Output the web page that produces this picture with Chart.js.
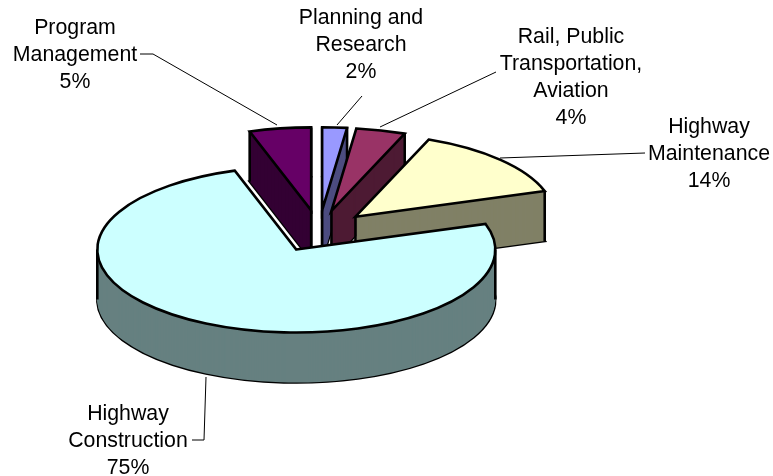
<!DOCTYPE html>
<html>
<head>
<meta charset="utf-8">
<style>html,body{margin:0;padding:0;background:#fff}canvas{display:block}</style>
<script src="https://cdn.jsdelivr.net/npm/chart.js@4/dist/chart.umd.js"></script>
</head>
<body>
<canvas id="c" width="773" height="476"></canvas>
<script>
const categories = ["Planning and Research", "Rail, Public Transportation, Aviation", "Highway Maintenance", "Highway Construction", "Program Management"];
const labelLines = [["Planning and", "Research"], ["Rail, Public", "Transportation,", "Aviation"], ["Highway", "Maintenance"], ["Highway", "Construction"], ["Program", "Management"]];
const shares = [2, 4, 14, 75, 5];
const topColors = ["#9999FF", "#993366", "#FFFFCC", "#CCFFFF", "#660066"];
const sideColors = ["#4D4D80", "#4D1A33", "#808066", "#668080", "#330033"];
const drawOrder = [4, 0, 1, 2, 3];

const TILT = 0.417, DEPTH = 50, EXPLODE = 50, LINE = 2.6;

function offsets(arc) {
  const mid = (arc.startAngle + arc.endAngle) / 2;
  return { cx: arc.x + Math.cos(mid) * EXPLODE, cy: arc.y + Math.sin(mid) * EXPLODE * TILT };
}
function sector(ctx, arc, shift) {
  const { cx, cy } = offsets(arc);
  ctx.beginPath();
  ctx.moveTo(cx, cy + shift);
  ctx.ellipse(cx, cy + shift, arc.outerRadius, arc.outerRadius * TILT, 0, arc.startAngle, arc.endAngle);
  ctx.closePath();
}
function verticals(ctx, arc) {
  const { cx, cy } = offsets(arc);
  const r = arc.outerRadius, pts = [[cx, cy]];
  const angles = [arc.startAngle, arc.endAngle];
  for (const a of [0, Math.PI, 2 * Math.PI]) if (a > arc.startAngle && a < arc.endAngle) angles.push(a);
  for (const a of angles) pts.push([cx + Math.cos(a) * r, cy + Math.sin(a) * r * TILT]);
  ctx.beginPath();
  for (const [x, y] of pts) { ctx.moveTo(x, y); ctx.lineTo(x, y + DEPTH); }
  ctx.stroke();
}

class Pie3D extends Chart.PieController {
  draw() {
    const ctx = this.chart.ctx, arcs = this._cachedMeta.data;
    ctx.save();
    ctx.lineJoin = "miter";
    ctx.strokeStyle = "#000";
    ctx.lineWidth = LINE;
    for (const i of drawOrder) {
      const arc = arcs[i];
      sector(ctx, arc, DEPTH); ctx.stroke();
      ctx.fillStyle = sideColors[i];
      for (let s = DEPTH; s >= 0; s--) { sector(ctx, arc, s); ctx.fill(); }
      verticals(ctx, arc);
      const { cx, cy } = offsets(arc);
      ctx.save();
      ctx.translate(cx - arc.x, cy - arc.y);
      ctx.translate(arc.x, arc.y);
      ctx.scale(1, TILT);
      ctx.translate(-arc.x, -arc.y);
      arc.draw(ctx);
      ctx.restore();
      sector(ctx, arc, 0); ctx.stroke();
    }
    ctx.restore();
  }
}
Pie3D.id = "pie3d";
Chart.register(Pie3D);

const textPlugin = {
  id: "callouts",
  afterDraw(chart) {
    const ctx = chart.ctx;
    const anchors = [[361, 18], [571, 37], [709, 127], [128, 414], [75, 28]];
    const leaders = [
      [[362, 96], [337, 125]],
      [[496, 72], [380, 127]],
      [[645, 153], [500, 158]],
      [[192, 440], [204, 440], [206, 377]],
      [[140, 54], [153, 54], [277, 125]]
    ];
    ctx.save();
    ctx.strokeStyle = "#000";
    ctx.lineWidth = 1;
    for (const l of leaders) {
      ctx.beginPath();
      l.forEach(([x, y], j) => j ? ctx.lineTo(x, y) : ctx.moveTo(x, y));
      ctx.stroke();
    }
    ctx.fillStyle = "#000";
    ctx.font = '21.3px "Liberation Sans", Arial, sans-serif';
    ctx.textAlign = "center";
    ctx.textBaseline = "middle";
    labelLines.forEach((lines, i) => {
      const [x, y] = anchors[i];
      [...lines, shares[i] + "%"].forEach((t, j) => ctx.fillText(t, x, y + j * 27));
    });
    ctx.restore();
  }
};

new Chart(document.getElementById("c"), {
  type: "pie3d",
  data: { labels: categories, datasets: [{ data: shares, backgroundColor: topColors, borderWidth: 0 }] },
  options: {
    responsive: false,
    animation: false,
    layout: { padding: { left: 120, right: 255, top: 32, bottom: 46 } },
    plugins: { legend: { display: false }, tooltip: { enabled: false } }
  },
  plugins: [textPlugin]
});
</script>
</body>
</html>
